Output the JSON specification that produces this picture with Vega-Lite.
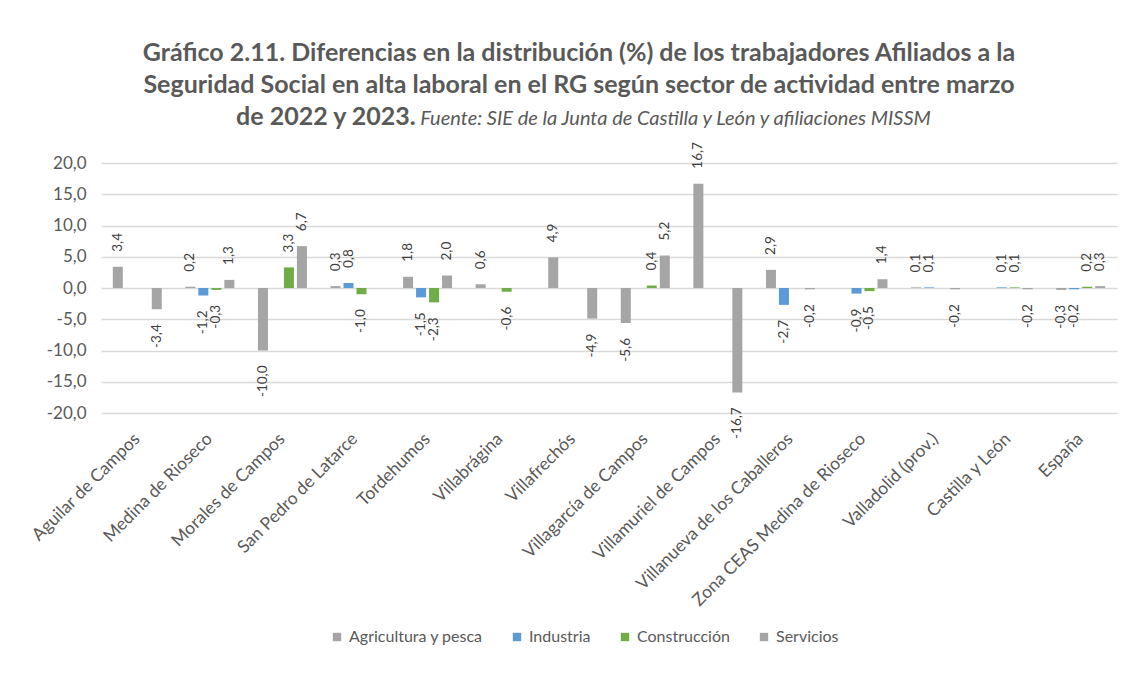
{
  "$schema": "https://vega.github.io/schema/vega-lite/v6.json",
  "autosize": {"type": "none"},
  "width": 1016,
  "height": 250,
  "padding": {"left": 101, "top": 163, "right": 20, "bottom": 260},
  "background": "white",
  "title": {
    "text": ["Gráfico 2.11. Diferencias en la distribución (%) de los trabajadores Afiliados a la", "Seguridad Social en alta laboral en el RG según sector de actividad entre marzo", "de 2022 y 2023.\u2003\u2003\u2003\u2003\u2003\u2003\u2003\u2003\u2003\u2003\u2003\u2003\u2003\u2003\u2003\u2003\u2003\u2003\u2003\u2003\u2003\u2003\u2003\u2003\u2003\u2003\u2003\u200B"],
    "subtitle": "\u200B\u2003\u2003\u2003\u2003\u2003\u2003\u2003\u2003\u2003\u2003\u2003\u2003\u2003\u2003Fuente: SIE de la Junta de Castilla y León y afiliaciones MISSM",
    "font": "Lato",
    "fontSize": 25,
    "fontWeight": "bold",
    "color": "#595959",
    "lineHeight": 32,
    "subtitleFont": "Lato",
    "subtitleFontSize": 20,
    "subtitleFontStyle": "italic",
    "subtitleColor": "#595959",
    "subtitlePadding": -21,
    "anchor": "middle",
    "frame": "group",
    "dx": -30,
    "offset": 12
  },
  "config": {
    "locale": {"number": {"decimal": ",", "thousands": ".", "grouping": [3], "currency": ["", " €"], "minus": "-"}},
    "view": {"stroke": null},
    "font": "Lato"
  },
  "data": {
    "values": [
      {"lugar": "Aguilar de Campos", "sector": "Agricultura y pesca", "valor": 3.4},
      {"lugar": "Aguilar de Campos", "sector": "Servicios", "valor": -3.4},
      {"lugar": "Medina de Rioseco", "sector": "Agricultura y pesca", "valor": 0.2},
      {"lugar": "Medina de Rioseco", "sector": "Industria", "valor": -1.2},
      {"lugar": "Medina de Rioseco", "sector": "Construcción", "valor": -0.3},
      {"lugar": "Medina de Rioseco", "sector": "Servicios", "valor": 1.3},
      {"lugar": "Morales de Campos", "sector": "Agricultura y pesca", "valor": -10.0},
      {"lugar": "Morales de Campos", "sector": "Construcción", "valor": 3.3},
      {"lugar": "Morales de Campos", "sector": "Servicios", "valor": 6.7},
      {"lugar": "San Pedro de Latarce", "sector": "Agricultura y pesca", "valor": 0.3},
      {"lugar": "San Pedro de Latarce", "sector": "Industria", "valor": 0.8},
      {"lugar": "San Pedro de Latarce", "sector": "Construcción", "valor": -1.0},
      {"lugar": "Tordehumos", "sector": "Agricultura y pesca", "valor": 1.8},
      {"lugar": "Tordehumos", "sector": "Industria", "valor": -1.5},
      {"lugar": "Tordehumos", "sector": "Construcción", "valor": -2.3},
      {"lugar": "Tordehumos", "sector": "Servicios", "valor": 2.0},
      {"lugar": "Villabrágina", "sector": "Agricultura y pesca", "valor": 0.6},
      {"lugar": "Villabrágina", "sector": "Construcción", "valor": -0.6},
      {"lugar": "Villafrechós", "sector": "Agricultura y pesca", "valor": 4.9},
      {"lugar": "Villafrechós", "sector": "Servicios", "valor": -4.9},
      {"lugar": "Villagarcía de Campos", "sector": "Agricultura y pesca", "valor": -5.6},
      {"lugar": "Villagarcía de Campos", "sector": "Construcción", "valor": 0.4},
      {"lugar": "Villagarcía de Campos", "sector": "Servicios", "valor": 5.2},
      {"lugar": "Villamuriel de Campos", "sector": "Agricultura y pesca", "valor": 16.7},
      {"lugar": "Villamuriel de Campos", "sector": "Servicios", "valor": -16.7},
      {"lugar": "Villanueva de los Caballeros", "sector": "Agricultura y pesca", "valor": 2.9},
      {"lugar": "Villanueva de los Caballeros", "sector": "Industria", "valor": -2.7},
      {"lugar": "Villanueva de los Caballeros", "sector": "Servicios", "valor": -0.2},
      {"lugar": "Zona CEAS Medina de Rioseco", "sector": "Industria", "valor": -0.9},
      {"lugar": "Zona CEAS Medina de Rioseco", "sector": "Construcción", "valor": -0.5},
      {"lugar": "Zona CEAS Medina de Rioseco", "sector": "Servicios", "valor": 1.4},
      {"lugar": "Valladolid (prov.)", "sector": "Agricultura y pesca", "valor": 0.1},
      {"lugar": "Valladolid (prov.)", "sector": "Industria", "valor": 0.1},
      {"lugar": "Valladolid (prov.)", "sector": "Servicios", "valor": -0.2},
      {"lugar": "Castilla y León", "sector": "Industria", "valor": 0.1},
      {"lugar": "Castilla y León", "sector": "Construcción", "valor": 0.1},
      {"lugar": "Castilla y León", "sector": "Servicios", "valor": -0.2},
      {"lugar": "España", "sector": "Agricultura y pesca", "valor": -0.3},
      {"lugar": "España", "sector": "Industria", "valor": -0.2},
      {"lugar": "España", "sector": "Construcción", "valor": 0.2},
      {"lugar": "España", "sector": "Servicios", "valor": 0.3}
    ]
  },
  "encoding": {
    "x": {
      "field": "lugar",
      "type": "nominal",
      "scale": {
        "domain": ["Aguilar de Campos", "Medina de Rioseco", "Morales de Campos", "San Pedro de Latarce", "Tordehumos", "Villabrágina", "Villafrechós", "Villagarcía de Campos", "Villamuriel de Campos", "Villanueva de los Caballeros", "Zona CEAS Medina de Rioseco", "Valladolid (prov.)", "Castilla y León", "España"],
        "paddingInner": 0.284,
        "paddingOuter": 0.142
      },
      "axis": {
        "title": null,
        "labelAngle": -45,
        "labelAlign": "right",
        "labelBaseline": "middle",
        "labelPadding": 23,
        "labelFontSize": 17.5,
        "labelColor": "#595959",
        "labelFont": "Lato",
        "ticks": false,
        "domain": false,
        "grid": false,
        "labelLimit": 400
      }
    },
    "xOffset": {
      "field": "sector",
      "type": "nominal",
      "scale": {"domain": ["Agricultura y pesca", "Industria", "Construcción", "Servicios"], "paddingInner": 0.23, "paddingOuter": 0.115}
    },
    "y": {
      "field": "valor",
      "type": "quantitative",
      "scale": {"domain": [-20, 20], "nice": false},
      "axis": {
        "title": null,
        "values": [-20, -15, -10, -5, 0, 5, 10, 15, 20],
        "format": ".1f",
        "labelFontSize": 17,
        "labelColor": "#595959",
        "labelFont": "Lato",
        "labelPadding": 15,
        "ticks": false,
        "domain": false,
        "grid": true,
        "gridColor": "#D9D9D9",
        "gridWidth": 1.5
      }
    }
  },
  "layer": [
    {
      "mark": {"type": "bar"},
      "encoding": {
        "color": {
          "field": "sector",
          "type": "nominal",
          "scale": {"domain": ["Agricultura y pesca", "Industria", "Construcción", "Servicios"], "range": ["#A5A5A5", "#5B9BD5", "#70AD47", "#A5A5A5"]},
          "legend": {
            "title": null,
            "orient": "none",
            "direction": "horizontal",
            "legendX": 228,
            "legendY": 466,
            "symbolType": "square",
            "symbolSize": 70,
            "symbolStrokeWidth": 0,
            "labelFontSize": 16,
            "labelColor": "#595959",
            "labelFont": "Lato",
            "labelOffset": 4,
            "columnPadding": 26
          }
        }
      }
    },
    {
      "transform": [{"filter": "datum.valor > 0"}],
      "mark": {"type": "text", "angle": -90, "align": "left", "baseline": "middle", "dx": 15, "fontSize": 13.5, "color": "#404040", "font": "Lato"},
      "encoding": {"text": {"field": "valor", "type": "quantitative", "format": ".1f"}}
    },
    {
      "transform": [{"filter": "datum.valor < 0"}],
      "mark": {"type": "text", "angle": -90, "align": "right", "baseline": "middle", "dx": -15, "fontSize": 13.5, "color": "#404040", "font": "Lato"},
      "encoding": {"text": {"field": "valor", "type": "quantitative", "format": ".1f"}}
    }
  ]
}
